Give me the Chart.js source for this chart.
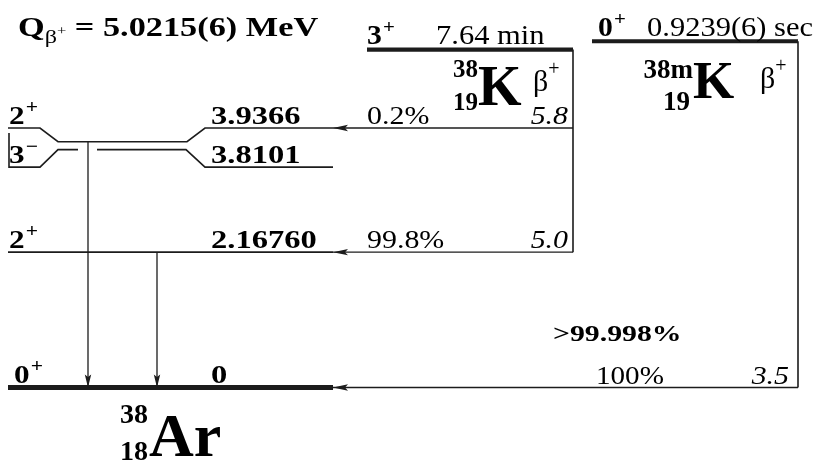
<!DOCTYPE html>
<html>
<head>
<meta charset="utf-8">
<script src="https://cdn.jsdelivr.net/npm/chart.js@4.4.0/dist/chart.umd.min.js"></script>
<style>
  html, body { margin: 0; padding: 0; background: #fff; }
  canvas { display: block; }
</style>
</head>
<body>
<canvas id="scheme" width="820" height="462"></canvas>
<script>
// 38K and 38mK beta+ decay into levels of 38Ar (energies in MeV)
const levelEnergies = [0, 2.16760, 3.8101, 3.9366];
const levelLabels = ['0', '2.16760', '3.8101', '3.9366'];
const levelSpins = [['0', '+'], ['2', '+'], ['3', '−'], ['2', '+']];

const gammaFrom = [3.9366, 2.16760];
const gammaTo = [0, 0];

// 38K (3+, 7.64 min) feeding
const kFedLevels = [3.9366, 2.16760];
const kBranches = ['0.2%', '99.8%'];
const kLogft = ['5.8', '5.0'];

// 38mK (0+, 0.9239 s) feeding
const kmFedLevels = [0];
const kmBranches = ['100%'];
const kmLogft = ['3.5'];
const kmTotalBranch = '>99.998%';

const parentSpins = [['3', '+'], ['0', '+']];
const parentHalfLives = ['7.64 min', '0.9239(6) sec'];
const qValue = '5.0215(6)';

// ---- layout ----
const W = 820, H = 462;
const Y_MAX = 6.206, Y_MIN = -1.193;
const mpp = (Y_MAX - Y_MIN) / H;          // MeV per pixel
const labelShift = [0, 0, -17.5, 13.7];   // px the level ends are pulled apart
const LX0 = 8, LX1 = 333;                 // daughter level line
const gammaX = [88, 157];
const parentY = [5.412, 5.545];           // drawn height of the two parent lines
const parentX = [[367, 573], [592, 798]];
const LINE = '#1c1c1c';
const THIN = 1.6;

const idx = e => levelEnergies.indexOf(e);
const labelY = i => levelEnergies[i] + labelShift[i] * mpp;

function line(points, width, extra) {
  return Object.assign({
    data: points, showLine: true, borderColor: LINE, backgroundColor: LINE,
    borderWidth: width, pointRadius: 0, fill: false, clip: false, spanGaps: false
  }, extra || {});
}

const datasets = [];

// daughter levels
levelEnergies.forEach((e, i) => {
  const ly = labelY(i);
  if (labelShift[i] === 0) {
    datasets.push(line([{ x: LX0, y: e }, { x: LX1, y: e }], e === 0 ? 5 : THIN));
  } else if (labelShift[i] > 0) {
    datasets.push(line([
      { x: LX0, y: ly }, { x: 40, y: ly }, { x: 58, y: e },
      { x: 187, y: e }, { x: 205, y: ly }, { x: LX1, y: ly }
    ], THIN));
  } else {
    datasets.push(line([
      { x: 9, y: labelY(3) - 5 * mpp }, { x: 9, y: ly }, { x: 40, y: ly }, { x: 58, y: e },
      { x: 78, y: e }, { x: 88, y: null }, { x: 97, y: e },
      { x: 186, y: e }, { x: 205, y: ly }, { x: LX1, y: ly }
    ], THIN));
  }
});

// gamma transitions
gammaFrom.forEach((e, k) => {
  datasets.push(line([{ x: gammaX[k], y: e }, { x: gammaX[k], y: gammaTo[k] }], 1.3,
    { arrow: { len: 13, half: 3.2 } }));
});

// parent levels and beta feeding
[[kFedLevels, 0], [kmFedLevels, 1]].forEach(([fed, p]) => {
  const [x0, x1] = parentX[p];
  const lowest = Math.min(...fed.map(e => labelY(idx(e))));
  datasets.push(line([{ x: x0, y: parentY[p] }, { x: x1, y: parentY[p] }], 4.2));
  datasets.push(line([{ x: x1, y: parentY[p] }, { x: x1, y: lowest }], THIN));
  fed.forEach(e => {
    const ly = labelY(idx(e));
    datasets.push(line([{ x: x1, y: ly }, { x: LX1, y: ly }], 1.3,
      { arrow: { len: 15, half: 3.2 } }));
  });
});

const arrowheads = {
  id: 'arrowheads',
  afterDatasetsDraw(chart) {
    const ctx = chart.ctx;
    chart.data.datasets.forEach((ds, i) => {
      if (!ds.arrow) return;
      const pts = chart.getDatasetMeta(i).data;
      const a = pts[pts.length - 2], b = pts[pts.length - 1];
      const ang = Math.atan2(b.y - a.y, b.x - a.x);
      ctx.save();
      ctx.translate(b.x, b.y);
      ctx.rotate(ang);
      ctx.beginPath();
      ctx.moveTo(0, 0);
      ctx.lineTo(-ds.arrow.len, -ds.arrow.half);
      ctx.lineTo(-ds.arrow.len * 0.8, 0);
      ctx.lineTo(-ds.arrow.len, ds.arrow.half);
      ctx.closePath();
      ctx.fillStyle = LINE;
      ctx.fill();
      ctx.restore();
    });
  }
};

const SERIF = '"Liberation Serif", "Times New Roman", Times, serif';
const f = (size, weight = 'normal', style = 'normal') => `${style} ${weight} ${size}px ${SERIF}`;

function runs(ctx, x, y, parts, sx = 1, align = 'left') {
  ctx.save();
  ctx.translate(x, y);
  ctx.scale(sx, 1);
  let w = 0;
  parts.forEach(r => { ctx.font = r.font; w += ctx.measureText(r.t).width + (r.dx || 0); });
  let cx = align === 'right' ? -w : 0;
  parts.forEach(r => {
    ctx.font = r.font;
    cx += r.dx || 0;
    ctx.fillText(r.t, cx, r.dy || 0);
    cx += ctx.measureText(r.t).width;
  });
  ctx.restore();
}

const spinRuns = (s, size) => [
  { t: s[0], font: f(size, 'bold') },
  { t: s[1], font: f(Math.round(size * 0.7), 'bold'), dy: -Math.round(size * 0.42), dx: 1 }
];

const labels = {
  id: 'labels',
  afterDraw(chart) {
    const ctx = chart.ctx;
    const X = v => chart.scales.x.getPixelForValue(v);
    const Y = v => chart.scales.y.getPixelForValue(v);
    ctx.save();
    ctx.fillStyle = '#000';
    ctx.textBaseline = 'alphabetic';

    // Q value
    runs(ctx, X(18), 36, [
      { t: 'Q', font: f(27, 'bold') },
      { t: 'β', font: f(19), dy: 7 },
      { t: '+', font: f(13), dy: -1 },
      { t: ' = ' + qValue + ' MeV', font: f(27, 'bold') }
    ], 1.27);

    // daughter level spins and energies
    levelEnergies.forEach((e, i) => {
      const base = Y(labelY(i)) - (e === 0 ? 5 : 4);
      runs(ctx, X(e === 0 ? 14 : 9), base, spinRuns(levelSpins[i], 26), 1.2);
      runs(ctx, X(211), base, [{ t: levelLabels[i], font: f(26, 'bold') }], 1.25);
    });

    // parent spins and half-lives
    const hlX = [436, 647];
    parentY.forEach((py, p) => {
      const base = Y(py) - 5.5;
      runs(ctx, X(parentX[p][0] + (p ? 6 : 0)), base, spinRuns(parentSpins[p], 27), 1.1);
      runs(ctx, X(hlX[p]), base, [{ t: parentHalfLives[p], font: f(27) }], 1.13);
    });

    // 38K branches
    kFedLevels.forEach((e, k) => {
      const base = Y(labelY(idx(e))) - 4;
      runs(ctx, X(367), base, [{ t: kBranches[k], font: f(26) }], 1.15);
      runs(ctx, X(568), base, [{ t: kLogft[k], font: f(26, 'normal', 'italic') }], 1.15, 'right');
    });

    // 38mK branches
    kmFedLevels.forEach((e, k) => {
      const base = Y(labelY(idx(e))) - 4;
      runs(ctx, X(596), base, [{ t: kmBranches[k], font: f(26) }], 1.12);
      runs(ctx, X(789), base, [{ t: kmLogft[k], font: f(26, 'normal', 'italic') }], 1.15, 'right');
    });
    runs(ctx, X(553), Y(0) - 47, [{ t: kmTotalBranch, font: f(24, 'bold') }], 1.24);

    // nuclide names
    ctx.textAlign = 'right';
    ctx.font = f(25, 'bold');
    ctx.fillText('38', X(478), Y(parentY[0]) + 27);
    ctx.fillText('19', X(478), Y(parentY[0]) + 60);
    ctx.font = f(27, 'bold');
    ctx.fillText('38m', X(693), Y(parentY[1]) + 37);
    ctx.fillText('19', X(690), Y(parentY[1]) + 69);
    ctx.font = f(28, 'bold');
    ctx.fillText('38', X(148), Y(0) + 35);
    ctx.fillText('18', X(148), Y(0) + 72);
    ctx.textAlign = 'left';
    ctx.font = f(56, 'bold');
    ctx.fillText('K', X(478), Y(parentY[0]) + 55);
    ctx.font = f(53, 'bold');
    ctx.fillText('K', X(693), Y(parentY[1]) + 57);
    ctx.font = f(62, 'bold');
    ctx.fillText('Ar', X(149), Y(0) + 68);
    runs(ctx, X(533), Y(parentY[0]) + 41, [
      { t: 'β', font: f(30) }, { t: '+', font: f(20), dy: -16 }]);
    runs(ctx, X(760), Y(parentY[1]) + 47, [
      { t: 'β', font: f(30) }, { t: '+', font: f(20), dy: -16 }]);
    ctx.restore();
  }
};

new Chart(document.getElementById('scheme'), {
  type: 'scatter',
  data: { datasets },
  options: {
    responsive: false,
    animation: false,
    events: [],
    layout: { padding: 0 },
    plugins: { legend: { display: false }, tooltip: { enabled: false } },
    scales: {
      x: { type: 'linear', min: 0, max: W, display: false },
      y: { type: 'linear', min: Y_MIN, max: Y_MAX, display: false }
    },
    elements: { line: { tension: 0, borderCapStyle: 'butt' } }
  },
  plugins: [arrowheads, labels]
});
</script>
</body>
</html>
